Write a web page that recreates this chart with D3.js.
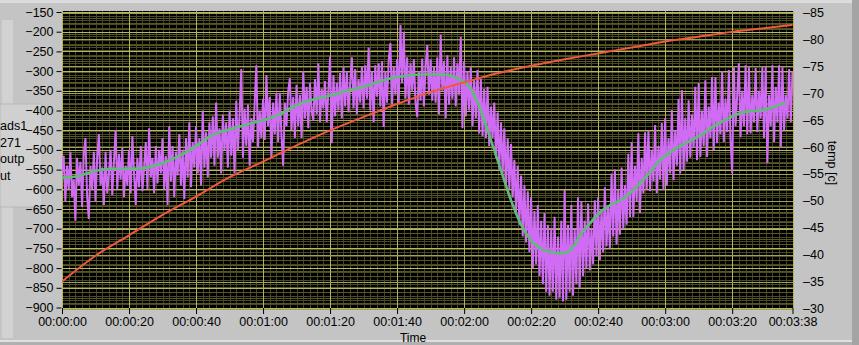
<!DOCTYPE html>
<html>
<head>
<meta charset="utf-8">
<script src="https://cdn.jsdelivr.net/npm/d3@7"></script>
<style>
  body { margin: 0; background: #c4c4c4; }
  svg text { font-family: "Liberation Sans", Arial, sans-serif; }
</style>
</head>
<body>
<div id="viz-container"></div>
<script>
let w = 859;
let h = 345;

// ads1271 output, one sample every half second (left axis)
let sampleStep = 0.5;
let adsOutput = [
  -560, -515, -630, -540, -600, -505, -620, -575, -680, -520,
  -590, -530, -645, -510, -470, -620, -675, -540, -600, -505,
  -630, -520, -460, -590, -545, -640, -505, -610, -560, -500,
  -615, -530, -450, -600, -510, -575, -495, -620, -540, -590,
  -500, -610, -465, -560, -640, -520, -595, -490, -605, -545,
  -480, -600, -445, -570, -520, -610, -490, -585, -500, -560,
  -470, -600, -515, -640, -440, -580, -490, -620, -505, -565,
  -460, -590, -500, -625, -470, -570, -430, -595, -480, -545,
  -440, -560, -470, -590, -400, -545, -455, -570, -430, -520,
  -415, -540, -380, -520, -445, -560, -410, -500, -430, -545,
  -400, -515, -420, -560, -375, -500, -410, -295, -520, -395,
  -490, -385, -540, -420, -480, -380, -285, -495, -400, -470,
  -370, -475, -310, -440, -365, -520, -380, -460, -355, -480,
  -355, -465, -540, -380, -440, -350, -318, -450, -365, -470,
  -335, -440, -360, -470, -300, -420, -340, -445, -330, -400,
  -425, -320, -410, -280, -430, -345, -395, -325, -430, -350,
  -264, -483, -310, -415, -330, -400, -305, -420, -290, -390,
  -300, -405, -330, -265, -395, -295, -410, -320, -380, -290,
  -395, -285, -370, -240, -400, -300, -430, -285, -365, -280,
  -390, -275, -442, -300, -380, -270, -229, -385, -290, -360,
  -270, -380, -183, -330, -200, -370, -265, -385, -280, -350,
  -270, -380, -417, -300, -375, -268, -390, -290, -234, -360,
  -270, -375, -290, -380, -265, -410, -208, -350, -275, -420,
  -260, -385, -290, -370, -265, -390, -280, -360, -213, -445,
  -275, -415, -300, -400, -290, -440, -320, -420, -297, -458,
  -320, -465, -345, -470, -340, -490, -390, -470, -380, -520,
  -405, -550, -430, -560, -445, -590, -470, -600, -485, -620,
  -525, -660, -540, -690, -565, -720, -590, -735, -605, -760,
  -620, -800, -655, -790, -640, -820, -680, -840, -660, -860,
  -690, -870, -700, -860, -670, -880, -720, -875, -680, -885,
  -602, -880, -690, -860, -640, -870, -700, -840, -620, -850,
  -630, -820, -680, -800, -636, -806, -700, -790, -628, -770,
  -620, -780, -650, -760, -595, -745, -640, -750, -560, -720,
  -550, -740, -600, -715, -545, -700, -590, -690, -510, -670,
  -480, -670, -540, -630, -458, -660, -520, -610, -455, -600,
  -450, -605, -500, -580, -437, -610, -490, -575, -432, -602,
  -420, -590, -470, -560, -399, -577, -450, -540, -370, -560,
  -348, -551, -420, -530, -374, -520, -410, -495, -340, -526,
  -330, -518, -400, -490, -323, -518, -390, -470, -315, -500,
  -315, -483, -380, -460, -300, -480, -370, -455, -297, -475,
  -559, -290, -440, -360, -280, -468, -350, -440, -285, -460,
  -290, -458, -360, -430, -292, -455, -350, -420, -290, -470,
  -288, -534, -360, -440, -285, -480, -340, -430, -285, -493,
  -290, -450, -360, -420, -295, -430, -300
];

// smoothed output (left axis)
let smoothTime = [0, 5, 10, 15, 20, 25, 30, 35, 40, 45, 50, 55, 60, 65, 70, 75, 80, 85, 90, 95, 100, 105, 110, 115, 118, 120, 122, 125, 128, 131, 134, 137, 140, 144, 149, 152, 155, 158, 161, 164, 167, 170, 173, 176, 179, 182, 185, 188, 191, 194, 197, 200, 203, 206, 209, 212, 216];
let smoothValue = [-570, -566, -553, -548, -548, -545, -533, -515, -490, -462, -448, -436, -425, -410, -386, -372, -362, -350, -340, -326, -315, -310, -308, -310, -318, -328, -345, -400, -475, -552, -628, -690, -730, -755, -763, -752, -712, -682, -655, -638, -626, -606, -580, -551, -522, -503, -488, -475, -460, -443, -428, -415, -405, -401, -399, -392, -380];

// temperature (right axis)
let tempTime = [0, 10, 20, 30, 40, 50, 60, 70, 80, 90, 100, 110, 120, 130, 140, 150, 160, 170, 180, 190, 200, 210, 218];
let tempValue = [-35.0, -39.8, -43.6, -47.4, -50.8, -54.4, -57.3, -60.3, -63.1, -65.6, -68.0, -70.2, -72.0, -73.7, -75.1, -76.3, -77.4, -78.5, -79.6, -80.5, -81.4, -82.1, -82.7];

let leftTicks = [-150, -200, -250, -300, -350, -400, -450, -500, -550, -600, -650, -700, -750, -800, -850, -900];
let rightTicks = [-85, -80, -75, -70, -65, -60, -55, -50, -45, -40, -35, -30];
let timeTicks = [0, 20, 40, 60, 80, 100, 120, 140, 160, 180, 200, 218];
let leftLabelLines = ["ads1", "271", "outp", "ut"];

let plotLeft = 62;
let plotRight = 793;
let plotTop = 11;
let plotBottom = 308;

let x = d3.scaleLinear().domain([0, 218]).range([plotLeft, plotRight - 0.5]);
let yLeft = d3.scaleLinear().domain([-900, -150]).range([307.5, 12]);
let yRight = d3.scaleLinear().domain([-30, -85]).range([308.5, 12.5]);

function timeFormat(s){
  let hh = Math.floor(s / 3600);
  let mm = Math.floor((s % 3600) / 60);
  let ss = s % 60;
  return d3.format("02")(hh) + ":" + d3.format("02")(mm) + ":" + d3.format("02")(ss);
}

let viz = d3.select("#viz-container")
  .append("svg")
    .attr("width", w)
    .attr("height", h)
    .style("display", "block")
    .style("background-color", "#c4c4c4")
;

// window edges
viz.append("rect").attr("x", 0).attr("y", 0).attr("width", w).attr("height", 3).attr("fill", "#dcdcdc");
viz.append("rect").attr("x", 852).attr("y", 0).attr("width", 7).attr("height", h).attr("fill", "#a4a4a4");
viz.append("rect").attr("x", 0).attr("y", 340).attr("width", 852).attr("height", 2).attr("fill", "#e0e0e0");
viz.append("rect").attr("x", 0).attr("y", 342).attr("width", 852).attr("height", 3).attr("fill", "#b0b0b0");
viz.append("rect").attr("x", 2).attr("y", 20).attr("width", 11).attr("height", 318).attr("fill", "#d2d2d2");

// left name box
viz.append("rect")
  .attr("x", 0)
  .attr("y", 104)
  .attr("width", 42)
  .attr("height", 103)
  .attr("fill", "#d0d0d0")
  .attr("stroke", "#b8b8b8")
;
viz.selectAll(".namelabel").data(leftLabelLines).enter()
  .append("text")
    .attr("class", "namelabel")
    .attr("x", 0)
    .attr("y", function(d, i){ return 130 + i * 16.5; })
    .attr("font-size", 12.5)
    .attr("fill", "#000")
    .text(function(d){ return d; })
;

// plot background
viz.append("rect")
  .attr("x", plotLeft)
  .attr("y", plotTop)
  .attr("width", plotRight - plotLeft)
  .attr("height", plotBottom - plotTop)
  .attr("fill", "#000")
;

let grid = viz.append("g");

// minor grid
grid.selectAll(".vminor").data(d3.range(0, 219, 2)).enter()
  .append("line")
    .attr("x1", function(d){ return Math.round(x(d)) + 0.5; })
    .attr("x2", function(d){ return Math.round(x(d)) + 0.5; })
    .attr("y1", plotTop)
    .attr("y2", plotBottom)
    .attr("stroke", "#46461f")
;
grid.selectAll(".hminorL").data(d3.range(-900, -149, 10)).enter()
  .append("line")
    .attr("x1", plotLeft)
    .attr("x2", plotRight)
    .attr("y1", function(d){ return Math.round(yLeft(d)) + 0.5; })
    .attr("y2", function(d){ return Math.round(yLeft(d)) + 0.5; })
    .attr("stroke", "#4a4a20")
;
grid.selectAll(".hminorR").data(d3.range(-85, -29, 1)).enter()
  .append("line")
    .attr("x1", plotLeft)
    .attr("x2", plotRight)
    .attr("y1", function(d){ return Math.round(yRight(d)) + 0.5; })
    .attr("y2", function(d){ return Math.round(yRight(d)) + 0.5; })
    .attr("stroke", "#585826")
;

// major grid
grid.selectAll(".vmajor").data(timeTicks).enter()
  .append("line")
    .attr("x1", function(d){ return Math.round(x(d)) + 0.5; })
    .attr("x2", function(d){ return Math.round(x(d)) + 0.5; })
    .attr("y1", plotTop)
    .attr("y2", plotBottom)
    .attr("stroke", "#b4b456")
;
grid.selectAll(".hmajorL").data(leftTicks).enter()
  .append("line")
    .attr("x1", plotLeft)
    .attr("x2", plotRight)
    .attr("y1", function(d){ return Math.round(yLeft(d)) + 0.5; })
    .attr("y2", function(d){ return Math.round(yLeft(d)) + 0.5; })
    .attr("stroke", "#b8b862")
;
grid.selectAll(".hmajorR").data(rightTicks).enter()
  .append("line")
    .attr("x1", plotLeft)
    .attr("x2", plotRight)
    .attr("y1", function(d){ return Math.round(yRight(d)) + 0.5; })
    .attr("y2", function(d){ return Math.round(yRight(d)) + 0.5; })
    .attr("stroke", "#a0a056")
;

// series
viz.append("clipPath").attr("id", "plotclip")
  .append("rect")
    .attr("x", plotLeft)
    .attr("y", plotTop)
    .attr("width", plotRight - plotLeft)
    .attr("height", plotBottom - plotTop)
;

let series = viz.append("g").attr("clip-path", "url(#plotclip)");

let adsLine = d3.line()
  .x(function(d, i){ return x(i * sampleStep); })
  .y(function(d){ return yLeft(d); })
;
series.append("path")
  .datum(adsOutput)
  .attr("d", adsLine)
  .attr("fill", "none")
  .attr("stroke", "#d06cf4")
  .attr("stroke-width", 2)
  .attr("stroke-linejoin", "bevel")
;

let smoothLine = d3.line()
  .x(function(d, i){ return x(smoothTime[i]); })
  .y(function(d){ return yLeft(d); })
  .curve(d3.curveMonotoneX)
;
series.append("path")
  .datum(smoothValue)
  .attr("d", smoothLine)
  .attr("fill", "none")
  .attr("stroke", "#5fbb78")
  .attr("stroke-width", 2.6)
;

let tempLine = d3.line()
  .x(function(d, i){ return x(tempTime[i]); })
  .y(function(d){ return yRight(d); })
  .curve(d3.curveMonotoneX)
;
series.append("path")
  .datum(tempValue)
  .attr("d", tempLine)
  .attr("fill", "none")
  .attr("stroke", "#ee5a3c")
  .attr("stroke-width", 2)
;

// axes
let leftAxis = d3.axisLeft(yLeft).tickValues(leftTicks).tickSize(5).tickPadding(3);
let leftG = viz.append("g")
  .attr("transform", "translate(" + (plotLeft - 0.5) + ",0)")
  .call(leftAxis)
;
let rightAxis = d3.axisRight(yRight).tickValues(rightTicks).tickSize(0).tickPadding(10)
  .tickFormat(function(d){ return "\u2013" + Math.abs(d); });
let rightG = viz.append("g")
  .attr("transform", "translate(" + plotRight + ",0)")
  .call(rightAxis)
;
let bottomAxis = d3.axisBottom(x).tickValues(timeTicks).tickSize(6).tickPadding(3).tickFormat(timeFormat);
let bottomG = viz.append("g")
  .attr("transform", "translate(0," + plotBottom + ")")
  .call(bottomAxis)
;

[leftG, rightG, bottomG].forEach(function(g){
  g.select(".domain").remove();
  g.selectAll("line").attr("stroke", "#000");
  g.selectAll("text")
    .attr("fill", "#000")
    .attr("font-family", "Liberation Sans, Arial, sans-serif")
    .attr("font-size", 12.5);
});

viz.append("text")
  .attr("x", 413)
  .attr("y", 342)
  .attr("text-anchor", "middle")
  .attr("font-size", 12)
  .attr("fill", "#000")
  .text("Time")
;

viz.append("text")
  .attr("transform", "translate(828,163) rotate(90)")
  .attr("text-anchor", "middle")
  .attr("font-size", 12.5)
  .attr("fill", "#000")
  .text("temp [c]")
;
</script>
</body>
</html>
